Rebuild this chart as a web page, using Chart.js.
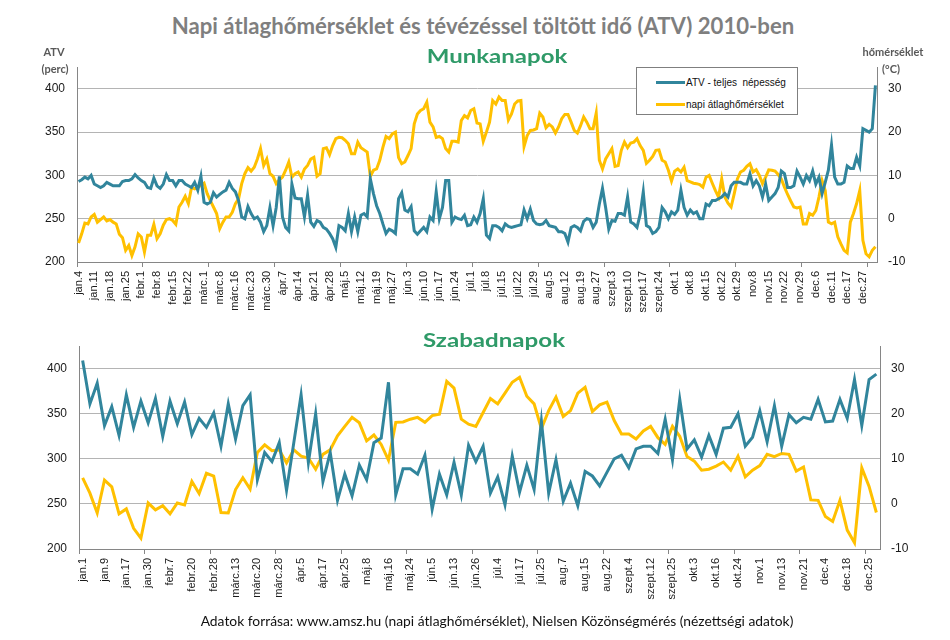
<!DOCTYPE html>
<html><head><meta charset="utf-8">
<script src="https://cdn.jsdelivr.net/npm/chart.js@4.4.1/dist/chart.umd.min.js"></script>
<style>
body{margin:0;width:950px;height:640px;background:#fff;position:relative;overflow:hidden;font-family:'Liberation Sans',Arial,sans-serif;}
canvas{position:absolute;left:0;}
.t{position:absolute;white-space:nowrap;font-family:Lato,'Open Sans',sans-serif;line-height:1;z-index:2;}
#legend{position:absolute;left:636px;top:67px;width:160px;height:46px;border:1px solid #7f7f7f;background:#fff;z-index:2;font-size:10px;color:#111;}
#legend .row{position:absolute;left:19px;height:12px;display:flex;align-items:center;}
#legend .sw{width:29px;height:3px;margin-right:1px;}
</style></head><body>
<canvas id="c1" width="950" height="287" style="top:48px"></canvas>
<canvas id="c2" width="950" height="283" style="top:327px"></canvas>

<div class="t" data-w="623" style="left:483px;top:26px;color:#7f7f7f;font-weight:bold;font-size:21px">Napi átlaghőmérséklet és tévézéssel töltött idő (ATV) 2010-ben</div>
<div class="t" data-w="140" data-mode="scale" style="left:497px;top:56px;color:#2f9a68;font-weight:bold;font-size:18px">Munkanapok</div>
<div class="t" data-w="142" data-mode="scale" style="left:494px;top:340px;color:#2f9a68;font-weight:bold;font-size:18px">Szabadnapok</div>
<div class="t" style="left:54px;top:51px;color:#595959;font-weight:bold;font-size:11px">ATV</div>
<div class="t" style="left:55px;top:68px;color:#595959;font-weight:bold;font-size:11px">(perc)</div>
<div class="t" style="left:893px;top:51px;color:#595959;font-weight:bold;font-size:11px">hőmérséklet</div>
<div class="t" style="left:891px;top:68px;color:#595959;font-weight:bold;font-size:11px">(°C)</div>
<div class="t" data-w="593" style="left:497px;top:621px;color:#111;font-size:13px">Adatok forrása: www.amsz.hu (napi átlaghőmérséklet), Nielsen Közönségmérés (nézettségi adatok)</div>

<div id="legend">
  <div class="row" style="top:8px"><div class="sw" style="background:#31859c"></div><span>ATV - teljes&nbsp; népesség</span></div>
  <div class="row" style="top:30px"><div class="sw" style="background:#ffc000"></div><span>napi átlaghőmérséklet</span></div>
</div>

<script>
// ---- categories: working days (Munkanapok) of 2010 ----
const workdayMonths = ["jan","febr","márc","ápr","máj","jún","júl","aug","szept","okt","nov","dec"];
const workdayDays = [
  [4,5,6,7,8,11,12,13,14,15,18,19,20,21,22,25,26,27,28,29],
  [1,2,3,4,5,8,9,10,11,12,15,16,17,18,19,22,23,24,25,26],
  [1,2,3,4,5,8,9,10,11,12,16,17,18,19,22,23,24,25,26,29,30,31],
  [1,2,6,7,8,9,12,13,14,15,16,19,20,21,22,23,26,27,28,29,30],
  [3,4,5,6,7,10,11,12,13,14,17,18,19,20,21,25,26,27,28,31],
  [1,2,3,4,7,8,9,10,11,14,15,16,17,18,21,22,23,24,25,28,29,30],
  [1,2,5,6,7,8,9,12,13,14,15,16,19,20,21,22,23,26,27,28,29,30],
  [2,3,4,5,6,9,10,11,12,13,16,17,18,19,23,24,25,26,27,30,31],
  [1,2,3,6,7,8,9,10,13,14,15,16,17,20,21,22,23,24,27,28,29,30],
  [1,4,5,6,7,8,11,12,13,14,15,18,19,20,21,22,25,26,27,28,29],
  [2,3,4,5,8,9,10,11,12,15,16,17,18,19,22,23,24,25,26,29,30],
  [1,2,3,6,7,8,9,10,11,13,14,15,16,17,20,21,22,23,27,28,29,30,31]
];
// ---- categories: days off (Szabadnapok) of 2010 ----
const freedayDays = [
  [1,2,3,9,10,16,17,23,24,30,31],
  [6,7,13,14,20,21,27,28],
  [6,7,13,14,15,20,21,27,28],
  [3,4,5,10,11,17,18,24,25],
  [1,2,8,9,15,16,22,23,24,29,30],
  [5,6,12,13,19,20,26,27],
  [3,4,10,11,17,18,24,25,31],
  [1,7,8,14,15,20,21,22,28,29],
  [4,5,11,12,18,19,25,26],
  [2,3,9,10,16,17,23,24,30,31],
  [1,6,7,13,14,20,21,27,28],
  [4,5,12,18,19,24,25,26]
];
const workdayLabels = workdayDays.flatMap((d, m) => d.map(x => workdayMonths[m] + "." + x));
const freedayLabels = freedayDays.flatMap((d, m) => d.map(x => workdayMonths[m] + "." + x));

// ---- series: working days ----
const atvWork = [
  293,295,298,296,300,290,288,286,288,292,
  290,288,288,288,293,294,294,296,301,297,
  294,292,286,285,297,288,285,290,301,294,
  294,288,294,294,290,288,286,292,283,299,
  269,267,269,280,275,278,281,283,292,285,
  281,271,252,250,264,256,250,252,246,235,
  242,263,242,263,299,252,240,236,290,274,
  273,273,252,277,246,241,248,246,240,238,
  233,227,217,242,240,236,256,235,252,235,
  254,256,252,296,279,265,256,244,233,238,
  236,233,273,280,260,258,264,236,232,236,
  240,235,252,248,281,250,263,294,294,246,
  252,250,249,254,242,243,252,246,256,273,
  231,227,242,242,240,236,244,241,240,241,
  242,243,260,250,261,248,244,243,244,248,
  242,241,240,235,235,233,223,240,242,240,
  236,247,250,249,240,246,267,285,263,238,
  248,247,256,256,254,275,246,244,240,255,
  281,242,240,233,235,240,263,258,250,258,
  255,260,283,263,254,260,256,258,250,250,
  267,265,271,271,273,275,279,275,288,292,
  292,292,290,290,302,288,294,288,275,290,
  271,275,279,286,305,302,286,286,288,305,
  298,290,300,294,305,290,298,279,292,306,
  335,298,290,290,292,311,308,308,321,311,
  354,352,350,354,404
];
const tempWork = [
  -5.6,-3.5,-1,-1.2,0.4,1,-0.8,-0.2,0.4,-0.5,
  -0.2,-0.8,-1.2,-3.6,-4.4,-7.3,-6.2,-8.5,-6.5,-3.5,
  -4.2,-7.7,-3.8,-3.8,-1.3,-4.6,-3.5,-1.5,-0.2,0,
  -0.4,-1.3,2.7,3.8,5.2,3.5,7.2,6.9,7.3,7.7,
  8.2,5.8,4.2,2.7,1.2,-2.3,-0.8,0.4,0.4,1.5,
  3.5,4.6,8.1,10.4,11.8,11,11.9,13.8,16.2,12.3,
  13.8,10.4,9.8,8.1,9,9.6,11.2,13.1,9.6,10.4,
  10.8,9.6,11.5,12.3,13.8,14.2,9.8,10.4,16.2,16.4,
  14.8,16.9,18.5,18.8,18.7,18.1,17.3,15,15,17.7,
  16.4,15.9,15.4,9.8,11.2,11.5,13.5,16.5,19,18.5,
  19.6,20,14.1,12.7,13.1,14.6,16.2,21.9,24.2,25,
  25.4,26.9,22.3,21.2,18.8,19,18.5,16.2,15.4,17.9,
  17.9,17.7,22.7,23.8,23.3,25,25.4,22.1,21.9,17.9,
  20,22.3,27.3,26.5,28.1,27.3,27.3,22.8,24.2,26.5,
  27.2,27.3,16.7,19.2,20.4,20.5,20.8,24.4,23.5,21,
  21.8,21.2,19.8,21.2,23.1,24.1,24.1,22.3,20.4,19.8,
  21.5,23.5,22.3,20.8,20.8,24.4,13.5,11.5,13.8,15,
  16.2,12.1,12.3,15.8,17.7,16.4,17.5,17.7,18.5,16.9,
  15.8,12.8,13.5,14.4,15.8,15.9,13.5,13.1,11.2,8.7,
  11,11.5,10.8,11.9,8.8,8.5,8.2,8.1,7.9,7.3,
  9.6,10,8.2,6.5,5,9.2,5,3.6,2.7,5.8,
  9.2,10.8,11.2,12.1,12.7,10.8,11.3,10,8.1,9.6,
  11.3,11.2,11,10.2,9.2,7.3,5.6,4.1,2.7,2.5,
  2.7,-1.2,-1.2,1.2,0.8,1.9,5,8.8,6.5,-0.8,
  -1.2,-0.8,-4.2,-5.8,-7.3,-7.9,-0.8,1.2,3.5,6.5,
  -5,-8.1,-8.8,-7.3,-6.5
];
// ---- series: days off ----
const atvFree = [
  409,361,384,337,358,326,371,335,364,340,
  367,325,364,339,363,327,345,335,351,314,
  361,322,359,371,277,307,297,318,265,318,
  371,296,350,275,307,254,283,259,293,277,
  318,323,385,260,289,289,283,304,244,283,
  260,296,260,315,297,314,262,280,249,303,
  263,293,266,342,262,299,253,273,248,286,
  281,270,285,300,304,290,311,314,314,306,
  344,299,366,311,321,302,326,305,334,335,
  350,314,324,353,319,359,314,349,340,346,
  344,366,341,342,366,345,388,337,388,394
];
const tempFree = [
  5.8,2.4,-2,5.3,3.8,-2.2,-1.1,-5.4,-7.6,0.2,
  -1.3,-0.4,-2.2,0.2,-0.2,5,2.3,6.8,6.2,-1.9,
  -2,3.2,5.8,3.3,11.4,13.1,11.8,12,9.1,12,
  10.6,10.2,7.7,11,12,15.1,17.2,19.2,18,14,
  15.3,13.2,9.7,18.1,18.2,18.8,19.2,18.1,19.6,19.9,
  27.2,25.7,18.8,17.7,17.2,20.3,23.4,22.2,24.6,27,
  28.1,23.9,22.2,16.7,20.7,23.7,19.4,20.7,24.6,25.9,
  20.5,22,22.6,18.5,15.5,15.5,14.4,16.2,17.2,14.7,
  13.2,17.2,15,10.5,9.5,7.5,7.7,8.4,9.3,7.5,
  10.6,6,7.5,8.5,11,10.5,11.2,11,7.3,8.2,
  0.9,0.8,-2.8,-3.9,0.8,-5.8,-8.6,8,3.9,-1.9
];
const atvTicks = {min:200, max:425, step:50};
const tempTicks = {min:-10, max:35, step:10};
const seriesNames = ["ATV - teljes  népesség", "napi átlaghőmérséklet"];

// fit text blocks to the measured widths of the reference
document.querySelectorAll('.t').forEach(el => {
  const w = +el.dataset.w;
  if (w) {
    if (el.dataset.mode === 'scale') {
      el.style.transform = 'translate(-50%,-50%) scaleX(' + (w / el.offsetWidth) + ')';
      return;
    }
    const fs = parseFloat(el.style.fontSize);
    el.style.fontSize = (fs * w / el.offsetWidth) + 'px';
  }
  el.style.transform = 'translate(-50%,-50%)';
});

const AXIS = '#868686', GRID = '#b4b4b4', TEAL = '#31859c', GOLD = '#ffc000';
const tickFont = {family: "'Liberation Sans', Arial, sans-serif", size: 12};

function makeChart(id, labels, atv, temp, o) {
  new Chart(document.getElementById(id), {
    type: 'line',
    data: {
      labels: labels,
      datasets: [
        {label: seriesNames[0], data: atv, yAxisID: 'y', borderColor: TEAL, borderWidth: 3, pointRadius: 0, tension: 0, order: 1},
        {label: seriesNames[1], data: temp, yAxisID: 'y2', borderColor: GOLD, borderWidth: 3, pointRadius: 0, tension: 0, order: 2}
      ]
    },
    options: {
      responsive: false, animation: false, devicePixelRatio: 1,
      layout: {padding: {top: o.padTop, left: 0, right: 0, bottom: 0}},
      plugins: {legend: {display: false}, tooltip: {enabled: false}},
      scales: {
        x: {
          type: 'category', offset: true,
          border: {color: AXIS, width: 1},
          grid: {offset: true, drawOnChartArea: false, tickLength: 5,
                 color: c => (c.index % o.tickEvery === 0) ? AXIS : 'rgba(0,0,0,0)'},
          ticks: {autoSkip: false, minRotation: 90, maxRotation: 90, padding: 4, color: '#1a1a1a',
                  font: {family: "'Liberation Sans', Arial, sans-serif", size: 11},
                  callback: (v, i) => (i % o.labelEvery === 0) ? labels[i] : ''},
          afterFit: s => { s.height = o.xHeight; }
        },
        y: {
          position: 'left', min: atvTicks.min, max: atvTicks.max,
          border: {color: AXIS, width: 1},
          grid: {color: GRID, drawTicks: false},
          ticks: {stepSize: atvTicks.step, includeBounds: false, padding: 12, color: '#1a1a1a', font: tickFont},
          afterFit: s => { s.width = o.left; }
        },
        y2: {
          position: 'right', min: tempTicks.min, max: tempTicks.max,
          border: {color: AXIS, width: 1},
          grid: {drawOnChartArea: false, drawTicks: false},
          ticks: {stepSize: tempTicks.step, includeBounds: false, padding: 11, color: '#1a1a1a', font: tickFont},
          afterFit: s => { s.width = 950 - o.right; }
        }
      }
    }
  });
}

makeChart('c1', workdayLabels, atvWork, tempWork,
  {padTop: 7, xHeight: 73, left: 77, right: 877, tickEvery: 21, labelEvery: 5});
makeChart('c2', freedayLabels, atvFree, tempFree,
  {padTop: 7, xHeight: 61, left: 79, right: 880, tickEvery: 9, labelEvery: 3});
</script>
</body></html>
